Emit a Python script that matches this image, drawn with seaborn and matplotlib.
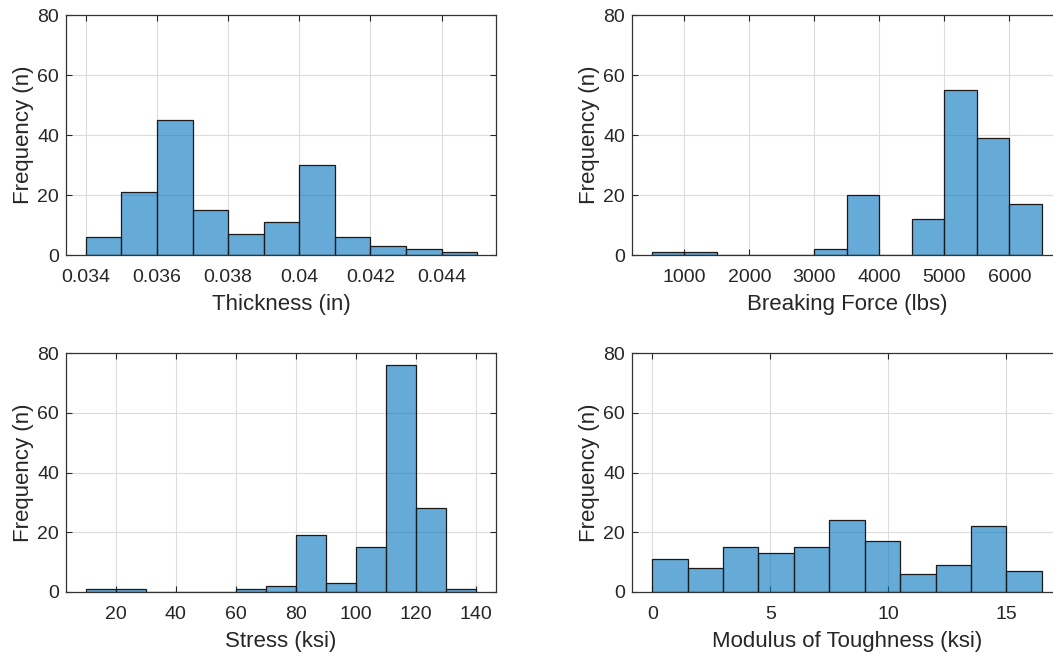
import numpy as np
import pandas as pd
import matplotlib
matplotlib.use("Agg")
import matplotlib.pyplot as plt
import seaborn as sns

# ---------------- data ----------------
thick_edges = [0.034, 0.035, 0.036, 0.037, 0.038, 0.039, 0.040, 0.041, 0.042, 0.043, 0.044, 0.045]
thick_counts = [6, 21, 45, 15, 7, 11, 30, 6, 3, 2, 1]

force_edges = [500, 1000, 1500, 2000, 2500, 3000, 3500, 4000, 4500, 5000, 5500, 6000, 6500]
force_counts = [1, 1, 0, 0, 0, 2, 20, 0, 12, 55, 39, 17]

stress_edges = [10, 20, 30, 40, 50, 60, 70, 80, 90, 100, 110, 120, 130, 140]
stress_counts = [1, 1, 0, 0, 0, 1, 2, 19, 3, 15, 76, 28, 1]

tough_edges = [0, 1.5, 3, 4.5, 6, 7.5, 9, 10.5, 12, 13.5, 15, 16.5]
tough_counts = [11, 8, 15, 13, 15, 24, 17, 6, 9, 22, 7]

thick_ticks = [0.034, 0.036, 0.038, 0.040, 0.042, 0.044]
thick_ticklabels = ["0.034", "0.036", "0.038", "0.04", "0.042", "0.044"]
force_ticks = [1000, 2000, 3000, 4000, 5000, 6000]
stress_ticks = [20, 40, 60, 80, 100, 120, 140]
tough_ticks = [0, 5, 10, 15]
y_ticks = [0, 20, 40, 60, 80]

xlabels = ["Thickness (in)", "Breaking Force (lbs)", "Stress (ksi)", "Modulus of Toughness (ksi)"]
ylabel = "Frequency (n)"

# ---------------- style ----------------
sns.set_theme(style="white")
plt.rcParams["font.family"] = ["Liberation Sans", "DejaVu Sans"]
TXT = "#262626"
plt.rcParams.update({
    "axes.edgecolor": "#333333",
    "axes.linewidth": 0.9,
    "xtick.color": TXT, "ytick.color": TXT,
    "xtick.labelcolor": TXT, "ytick.labelcolor": TXT,
    "axes.labelcolor": TXT,
})

W, H = 1053, 656
fig = plt.figure(figsize=(W / 100, H / 100), dpi=100)

def add_ax(l, t, r, b):
    return fig.add_axes([l / W, 1 - b / H, (r - l) / W, (b - t) / H])

panels = [
    (add_ax(66, 15, 496, 255), thick_edges, thick_counts, (0.03344, 0.04553), thick_ticks, thick_ticklabels, xlabels[0]),
    (add_ax(632, 15, 1062, 255), force_edges, force_counts, (195, 6810), force_ticks, [str(t) for t in force_ticks], xlabels[1]),
    (add_ax(66, 353, 496, 592), stress_edges, stress_counts, (3.45, 146.7), stress_ticks, [str(t) for t in stress_ticks], xlabels[2]),
    (add_ax(632, 353, 1062, 592), tough_edges, tough_counts, (-0.86, 17.36), tough_ticks, [str(t) for t in tough_ticks], xlabels[3]),
]

FACE = "#0072BD"
for ax, edges, counts, xlim, xt, xtl, xl in panels:
    e = np.array(edges, dtype=float)
    centers = (e[:-1] + e[1:]) / 2
    df = pd.DataFrame({"x": centers, "w": np.array(counts, dtype=float)})
    sns.histplot(data=df, x="x", weights="w", bins=list(edges), ax=ax,
                 color=FACE, alpha=0.6, edgecolor="#1a1a1a", linewidth=0.9, zorder=3)
    ax.set_xlim(*xlim)
    ax.set_ylim(0, 80)
    ax.set_xticks(xt)
    ax.set_xticklabels(xtl)
    ax.set_yticks(y_ticks)
    ax.grid(True, color="#dcdcdc", linewidth=0.8, zorder=0)
    ax.set_axisbelow(True)
    ax.tick_params(axis="both", which="major", direction="in", length=4, width=0.8,
                   labelsize=14, top=True, right=True, bottom=True, left=True, pad=5)
    ax.tick_params(axis="x", pad=10)
    ax.set_xlabel(xl, fontsize=16, labelpad=6)
    ax.set_ylabel(ylabel, fontsize=16, labelpad=2)
    for s in ax.spines.values():
        s.set_visible(True)
        s.set_zorder(5)

fig.savefig("out.png", dpi=100)
